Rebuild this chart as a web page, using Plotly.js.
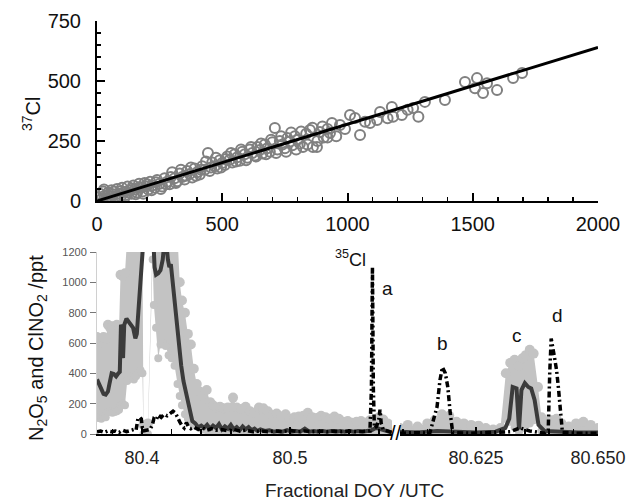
<!DOCTYPE html>
<html><head><meta charset="utf-8">
<script src="https://cdn.plot.ly/plotly-3.0.1.min.js"></script>
<style>body{margin:0;background:#fff}#plot{width:635px;height:504px}</style>
</head><body><div id="plot"></div>
<script>
// ---- Top panel: 37Cl vs 35Cl ----
const cl35 = [5,12,18,25,30,38,45,50,58,65,72,80,88,95,100,108,115,122,130,138,145,152,160,168,175,182,190,198,205,212,220,230,240,250,260,270,280,290,300,310,320,330,340,350,360,370,380,390,400,410,420,430,443,450,460,470,480,490,500,510,520,530,540,550,560,570,580,590,600,610,620,630,640,650,660,670,680,690,700,710,720,730,740,750,760,770,780,790,800,810,822,835,850,862,878,890,905,920,930,938,955,970,990,1010,1030,1050,1070,1090,1118,1130,1160,1177,1182,1217,1240,1262,1283,1309,1389,1469,1509,1517,1541,1557,1597,1661,1697,
 15,28,42,55,68,82,96,110,125,140,155,170,185,200,218,235,255,275,295,315,335,355,375,395,415,435,455,475,495,515,535,555,575,595,615,635,655,675,695,715,735,755,775,795,815,840,860,880,900,920];
const cl37 = [15,30,8,40,22,10,35,18,45,28,12,50,30,20,55,38,25,60,45,30,65,48,35,72,55,40,75,60,48,80,65,55,88,72,60,95,80,70,120,95,82,115,100,90,125,112,98,135,120,110,145,130,200,125,160,145,135,170,158,150,185,172,160,195,182,168,205,195,180,215,200,190,225,212,198,235,220,205,245,304,215,250,235,220,262,248,232,270,255,240,225,280,296,225,225,287,265,300,283,325,270,317,300,358,346,275,330,325,337,371,345,392,351,358,380,387,351,413,421,496,470,512,450,491,462,512,533,
 5,48,25,8,40,18,42,15,35,52,28,58,30,70,45,78,50,70,100,75,130,105,140,105,130,165,140,180,140,175,200,165,215,170,225,185,240,195,255,200,270,205,285,215,290,235,305,250,310,265];
const fitX = [0, 2000];
const fitY = [0, 640];

// ---- Bottom panel, left segment ----
const gT1 = [80.3696,80.3710,80.3725,80.3740,80.3755,80.3770,80.3785,80.3800,80.3815,80.3830,80.3845,80.3855,80.3870,80.3885,80.3900,80.3915,80.3930,80.3945,80.3960,80.3975,80.3990,80.4003,80.4010,80.4040,80.4072,80.4080,80.4095,80.4110,80.4125,80.4140,80.4160,80.4180,80.4200,80.4220,80.4240,80.4255,80.4270,80.4290,80.4310,80.4330,80.4350,80.4370,80.4390,80.4410,80.4437,80.4460,80.4480,80.4500,80.4527,80.4550,80.4580,80.4615,80.4640,80.4670,80.4700,80.4730,80.4760,80.4790,80.4820,80.4850,80.4880,80.4910,80.4940,80.4970,80.5000,80.5030,80.5060,80.5090,80.5120,80.5150,80.5180,80.5210,80.5240,80.5270,80.5300,80.5330,80.5360,80.5390,80.5420,80.5450,80.5480,80.5510,80.5540,80.5570,80.5600,80.5630,80.5660,80.5689];
const gUp1 = [640,620,600,640,630,720,700,710,690,720,700,1050,1040,1060,1300,1300,1300,1300,1300,1300,1300,1300,60,70,1300,1300,1300,1300,1300,1300,1300,1300,1300,1300,1300,1000,880,800,660,590,430,330,280,250,290,210,190,175,180,170,175,240,175,165,180,150,140,175,170,150,125,135,115,130,100,110,115,120,140,110,105,120,110,100,115,100,80,85,75,80,85,75,90,95,110,95,70,50];
const gLo1 = [110,105,100,115,110,145,150,140,145,150,160,190,200,190,350,370,380,360,380,400,420,400,0,0,1150,850,700,500,590,600,580,520,500,450,330,250,190,130,100,80,60,50,40,30,25,20,15,15,10,10,10,10,5,5,5,5,5,5,5,5,5,5,5,5,5,5,5,5,5,5,5,5,5,5,5,5,5,5,5,5,5,5,5,5,5,5,5,5];
const dT1 = [80.3696,80.3710,80.3725,80.3740,80.3755,80.3770,80.3780,80.3795,80.3810,80.3825,80.3840,80.3850,80.3858,80.3866,80.3872,80.3880,80.3895,80.3910,80.3925,80.3940,80.3955,80.3965,80.3975,80.3985,80.3998,80.4040,80.4078,80.4085,80.4095,80.4110,80.4125,80.4140,80.4150,80.4165,80.4175,80.4185,80.4195,80.4205,80.4215,80.4225,80.4235,80.4250,80.4265,80.4280,80.4300,80.4320,80.4340,80.4360,80.4380,80.4400,80.4420,80.4440,80.4460,80.4480,80.4500,80.4520,80.4540,80.4560,80.4580,80.4600,80.4620,80.4640,80.4660,80.4680,80.4700,80.4720,80.4740,80.4760,80.4780,80.4800,80.4830,80.4860,80.4890,80.4920,80.4950,80.4980,80.5010,80.5040,80.5070,80.5100,80.5130,80.5160,80.5190,80.5220,80.5250,80.5280,80.5310,80.5340,80.5370,80.5400,80.5430,80.5460,80.5490,80.5520,80.5550,80.5580,80.5610,80.5640,80.5689];
const dV1 = [360,330,300,265,260,280,330,400,395,380,400,410,720,700,500,720,760,740,720,700,630,660,800,1000,1300,1700,1250,1100,1050,1060,1080,1150,1250,1250,1150,1100,1120,1020,920,860,760,600,450,350,260,150,85,70,45,55,40,60,35,55,40,65,30,50,35,60,30,45,25,50,30,45,25,35,20,30,20,25,15,20,15,25,15,20,15,35,15,20,15,20,15,20,15,20,15,20,15,20,15,20,25,40,30,20,10];
const cT1 = [80.3696,80.3720,80.3745,80.3770,80.3795,80.3820,80.3845,80.3870,80.3895,80.3920,80.3945,80.3960,80.3972,80.3985,80.3995,80.4005,80.4030,80.4055,80.4070,80.4080,80.4095,80.4110,80.4130,80.4150,80.4170,80.4190,80.4210,80.4225,80.4240,80.4255,80.4270,80.4285,80.4300,80.4315,80.4330,80.4350,80.4380,80.4410,80.4440,80.4470,80.4500,80.4540,80.4580,80.4620,80.4660,80.4700,80.4750,80.4800,80.4850,80.4900,80.4950,80.5000,80.5050,80.5100,80.5150,80.5200,80.5250,80.5300,80.5350,80.5400,80.5450,80.5500,80.5540,80.5550,80.5557,80.5563,80.5570,80.5585,80.5600,80.5608,80.5616,80.5630,80.5660,80.5689];
const cV1 = [15,20,10,20,15,20,10,25,15,20,30,25,100,110,100,20,25,30,60,100,90,125,110,130,120,135,150,140,105,80,55,40,75,45,35,45,30,40,25,35,25,30,20,30,20,25,15,20,15,20,15,25,15,20,15,20,15,20,15,20,15,20,20,300,1100,300,40,50,100,160,70,30,20,10];

// ---- Bottom panel, right segment ----
const gT2 = [80.6094,80.6110,80.6130,80.6150,80.6165,80.6180,80.6195,80.6210,80.6225,80.6240,80.6255,80.6270,80.6285,80.6300,80.6311,80.6320,80.6329,80.6338,80.6345,80.6352,80.6360,80.6368,80.6377,80.6384,80.6395,80.6405,80.6415,80.6425,80.6440,80.6455,80.6470,80.6485,80.6500];
const gUp2 = [40,60,50,70,90,130,120,80,70,60,55,40,30,40,400,470,490,450,500,520,555,530,310,110,80,90,100,70,50,70,80,60,40];
const gLo2 = [0,0,0,0,0,0,0,0,0,0,0,0,0,0,100,80,45,15,40,60,70,90,100,20,0,0,0,0,0,0,0,0,0];
const dT2 = [80.6094,80.6130,80.6170,80.6210,80.6250,80.6290,80.6310,80.6318,80.6325,80.6333,80.6338,80.6343,80.6350,80.6357,80.6363,80.6370,80.6378,80.6390,80.6420,80.6460,80.6500];
const dV2 = [15,10,20,15,10,15,40,100,310,300,30,290,336,310,300,224,60,20,15,10,10];
const cT2 = [80.6094,80.6130,80.6155,80.6162,80.6170,80.6176,80.6181,80.6187,80.6192,80.6197,80.6202,80.6240,80.6280,80.6320,80.6340,80.6360,80.6390,80.6398,80.6401,80.6404,80.6410,80.6415,80.6419,80.6423,80.6427,80.6460,80.6500];
const cV2 = [5,10,5,80,180,356,440,400,310,138,10,5,10,15,40,20,5,30,400,630,520,422,300,138,10,5,5];

const leftTicks = [80.4, 80.5];
const rightTicks = [80.625, 80.650];
const rightTickText = ['80.625', '80.650'];

const W = 635, H = 504;
const px = v => v / W, py = v => 1 - v / H;
const FONT = 'Liberation Sans, Arial, sans-serif';
const GREY = '#c3c3c3', DARK = '#3b3b3b';

function band(t, lo, up, xa) {
  return [
    {x: t, y: lo, xaxis: xa, yaxis: 'y2', mode: 'lines+markers', line: {width: 0, color: GREY},
     marker: {size: 8, color: GREY}, hoverinfo: 'skip', showlegend: false},
    {x: t, y: up, xaxis: xa, yaxis: 'y2', mode: 'lines+markers', fill: 'tonexty', fillcolor: GREY,
     line: {width: 0, color: GREY}, marker: {size: 10, color: GREY}, hoverinfo: 'skip', showlegend: false}
  ];
}
const dashdot = '6px,3px,2px,3px';
const traces = [
  {x: cl35, y: cl37, xaxis: 'x', yaxis: 'y', mode: 'markers',
   marker: {symbol: 'circle-open', size: 10, color: '#808080', line: {width: 2, color: '#808080'}}, showlegend: false},
  {x: fitX, y: fitY, xaxis: 'x', yaxis: 'y', mode: 'lines', line: {color: '#000', width: 3}, showlegend: false},
  ...band(gT1, gLo1, gUp1, 'x2'),
  ...band(gT2, gLo2, gUp2, 'x3'),
  {x: dT1, y: dV1, xaxis: 'x2', yaxis: 'y2', mode: 'lines', line: {color: DARK, width: 4}, showlegend: false},
  {x: dT2, y: dV2, xaxis: 'x3', yaxis: 'y2', mode: 'lines', line: {color: DARK, width: 4}, showlegend: false},
  {x: cT1, y: cV1, xaxis: 'x2', yaxis: 'y2', mode: 'lines', line: {color: '#000', width: 3.5, dash: dashdot}, showlegend: false},
  {x: cT2, y: cV2, xaxis: 'x3', yaxis: 'y2', mode: 'lines', line: {color: '#000', width: 3.5, dash: dashdot}, showlegend: false}
];

const ann = (text, x, y, size, extra) => Object.assign({text, x: px(x), y: py(y), xref: 'paper', yref: 'paper',
  showarrow: false, font: {family: FONT, size, color: '#111'}, xanchor: 'center', yanchor: 'middle'}, extra || {});

const layout = {
  width: W, height: H, margin: {l: 0, r: 0, t: 0, b: 0},
  paper_bgcolor: '#fff', plot_bgcolor: 'rgba(0,0,0,0)', showlegend: false,
  font: {family: FONT, color: '#111'},
  xaxis: {domain: [px(97), px(598)], anchor: 'y', range: [0, 2000], tickvals: [0, 500, 1000, 1500, 2000],
    showgrid: false, zeroline: false, showline: true, linewidth: 2, linecolor: '#000',
    ticks: 'inside', ticklen: 8, tickwidth: 2, tickcolor: '#000', ticklabelstandoff: 4,
    minor: {dtick: 100, ticks: 'inside', ticklen: 4, tickwidth: 1.5, tickcolor: '#000'},
    tickfont: {size: 20, family: FONT, color: '#111'}},
  yaxis: {domain: [py(201), py(21)], anchor: 'x', range: [0, 750], tickvals: [0, 250, 500, 750],
    showgrid: false, zeroline: false, showline: true, linewidth: 2, linecolor: '#000',
    ticks: 'inside', ticklen: 8, tickwidth: 2, tickcolor: '#000', ticklabelstandoff: 10,
    minor: {dtick: 50, ticks: 'inside', ticklen: 4, tickwidth: 1.5, tickcolor: '#000'},
    tickfont: {size: 20, family: FONT, color: '#111'}},
  xaxis2: {domain: [px(97), px(392)], anchor: 'y2', range: [80.3696, 80.5689], tickvals: leftTicks, ticktext: ['80.4', '80.5'],
    showgrid: false, zeroline: false, showline: true, linewidth: 2, linecolor: '#000',
    ticks: 'inside', ticklen: 7, tickwidth: 1.5, tickcolor: '#000', ticklabelstandoff: 6,
    minor: {tick0: 80.36, dtick: 0.02, ticks: 'inside', ticklen: 5, tickwidth: 1.5, tickcolor: '#000'},
    tickfont: {size: 18, family: FONT, color: '#222'}},
  xaxis3: {domain: [px(400), px(598)], anchor: 'y2', range: [80.6094, 80.650], tickvals: rightTicks, ticktext: rightTickText,
    showgrid: false, zeroline: false, showline: true, linewidth: 2, linecolor: '#000',
    ticks: 'inside', ticklen: 7, tickwidth: 1.5, tickcolor: '#000', ticklabelstandoff: 6,
    minor: {tick0: 80.6, dtick: 0.005, ticks: 'inside', ticklen: 5, tickwidth: 1.5, tickcolor: '#000'},
    tickfont: {size: 18, family: FONT, color: '#222'}},
  yaxis2: {domain: [py(434), py(252)], anchor: 'x2', range: [0, 1200], dtick: 200,
    showgrid: false, zeroline: false, showline: true, linewidth: 1, linecolor: '#d0d0d0',
    ticks: 'outside', ticklen: 6, tickwidth: 1, tickcolor: '#777', ticklabelstandoff: 1,
    tickfont: {size: 11, family: FONT, color: '#555'}},
  annotations: [
    ann('<sup>37</sup>Cl', 32, 114, 20, {textangle: -90}),
    ann('N<sub>2</sub>O<sub>5</sub> and ClNO<sub>2</sub> /ppt', 37, 348, 20, {textangle: -90}),
    ann('Fractional DOY /UTC', 354, 490, 19, {font: {family: FONT, size: 19, color: '#222'}}),
    ann('<sup>35</sup>Cl', 350, 258, 18),
    ann('a', 387, 288, 19),
    ann('b', 442, 343, 19),
    ann('c', 517, 335, 19),
    ann('d', 557, 315, 19),
    ann('//', 396, 433, 20, {font: {family: FONT, size: 20, color: '#000'}})
  ]
};
Plotly.newPlot('plot', traces, layout, {staticPlot: true, displayModeBar: false});
</script></body></html>
